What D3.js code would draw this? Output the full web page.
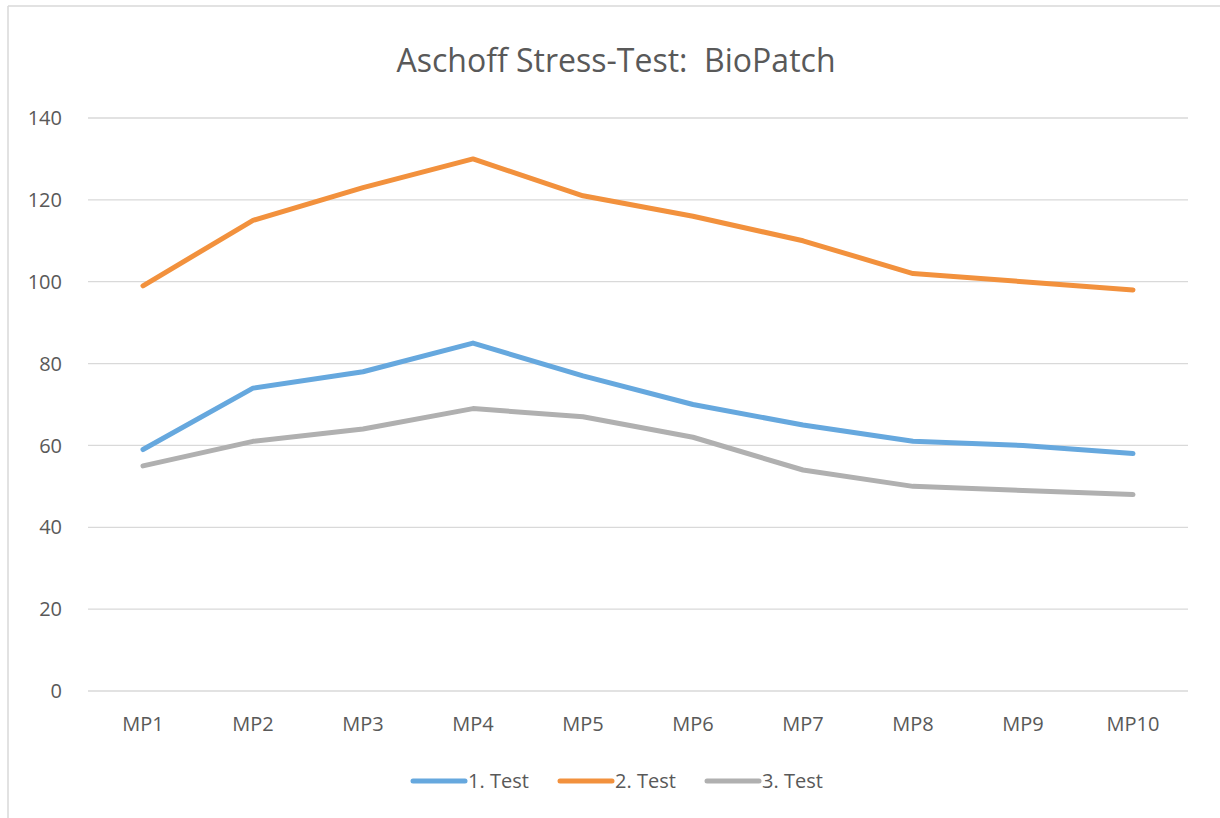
<!DOCTYPE html>
<html>
<head>
<meta charset="utf-8">
<script src="https://cdn.jsdelivr.net/npm/d3@7"></script>
<style>
  body { margin: 0; background: #fff; }
  text { font-family: "Open Sans", "Liberation Sans", sans-serif; fill: #595959; white-space: pre; }
</style>
</head>
<body>
<svg id="chart" width="1220" height="818"></svg>
<script>
const categories = ["MP1", "MP2", "MP3", "MP4", "MP5", "MP6", "MP7", "MP8", "MP9", "MP10"];
const test1 = [59, 74, 78, 85, 77, 70, 65, 61, 60, 58];
const test2 = [99, 115, 123, 130, 121, 116, 110, 102, 100, 98];
const test3 = [55, 61, 64, 69, 67, 62, 54, 50, 49, 48];
const yTicks = [0, 20, 40, 60, 80, 100, 120, 140];

const series = [
  { name: "1. Test", values: test1, color: "#66A8DE" },
  { name: "2. Test", values: test2, color: "#F2913D" },
  { name: "3. Test", values: test3, color: "#B0B0B0" }
];

const svg = d3.select("#chart");
const margin = { top: 118, left: 88, right: 32, bottom: 127 };
const width = 1220, height = 818;

// chart border (left + top only visible in reference)
svg.append("line").attr("x1", 8).attr("x2", 8).attr("y1", 6).attr("y2", height)
  .attr("stroke", "#d9d9d9").attr("stroke-width", 1.5);
svg.append("line").attr("x1", 8).attr("x2", width).attr("y1", 6).attr("y2", 6)
  .attr("stroke", "#d9d9d9").attr("stroke-width", 1.5);

const x = d3.scaleBand()
  .domain(categories)
  .range([margin.left, width - margin.right]);

const y = d3.scaleLinear()
  .domain([0, 140])
  .range([height - margin.bottom, margin.top]);

// gridlines
svg.append("g")
  .selectAll("line")
  .data(yTicks)
  .enter().append("line")
    .attr("x1", margin.left)
    .attr("x2", width - margin.right)
    .attr("y1", d => y(d))
    .attr("y2", d => y(d))
    .attr("stroke", "#d9d9d9")
    .attr("stroke-width", 1.3);

// y labels
svg.append("g")
  .selectAll("text")
  .data(yTicks)
  .enter().append("text")
    .attr("x", 62)
    .attr("y", d => y(d))
    .attr("dy", "0.36em")
    .attr("text-anchor", "end")
    .attr("font-size", 20)
    .text(d => d);

// x labels
svg.append("g")
  .selectAll("text")
  .data(categories)
  .enter().append("text")
    .attr("x", d => x(d) + x.bandwidth() / 2)
    .attr("y", height - margin.bottom + 40)
    .attr("text-anchor", "middle")
    .attr("font-size", 20)
    .text(d => d);

const line = d3.line()
  .x((d, i) => x(categories[i]) + x.bandwidth() / 2)
  .y(d => y(d));

svg.append("g")
  .selectAll("path")
  .data(series)
  .enter().append("path")
    .attr("d", d => line(d.values))
    .attr("fill", "none")
    .attr("stroke", d => d.color)
    .attr("stroke-width", 5)
    .attr("stroke-linecap", "round")
    .attr("stroke-linejoin", "round");

// title
svg.append("text")
  .attr("x", 616)
  .attr("y", 72)
  .attr("text-anchor", "middle")
  .attr("font-size", 32)
  .text("Aschoff Stress-Test:  BioPatch");

// legend
const legendX = [413, 560, 707];
const legend = svg.append("g")
  .selectAll("g")
  .data(series)
  .enter().append("g")
    .attr("transform", (d, i) => "translate(" + legendX[i] + ",781)");

legend.append("line")
  .attr("x1", 0).attr("x2", 52)
  .attr("stroke", d => d.color)
  .attr("stroke-width", 5)
  .attr("stroke-linecap", "round");

legend.append("text")
  .attr("x", 55)
  .attr("dy", "0.36em")
  .attr("font-size", 20)
  .text(d => d.name);
</script>
</body>
</html>
